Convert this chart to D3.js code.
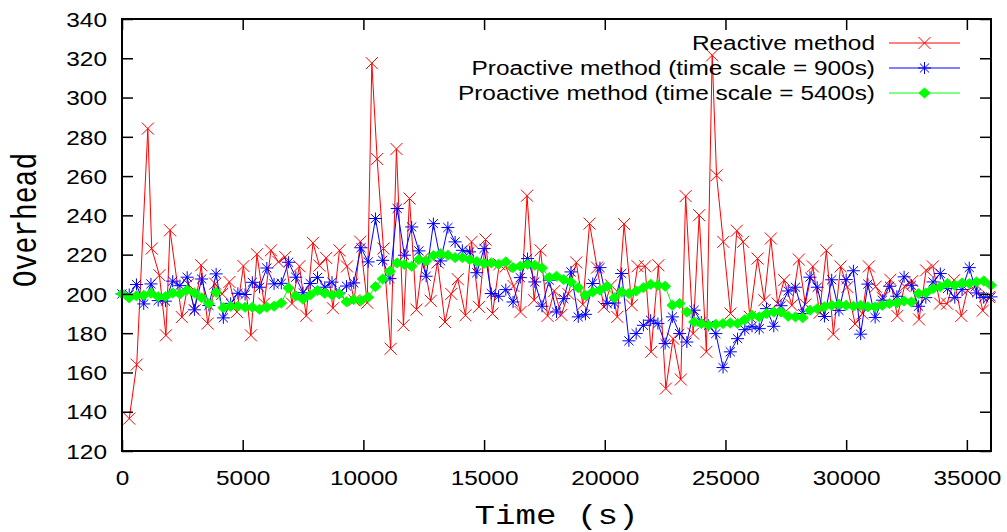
<html>
<script src='https://d3js.org/d3.v7.min.js'></script>
<style>
body {margin: 0; background: #fff;}
text {font-family: "Liberation Sans", Arial, sans-serif;}
.title {font-family: "Liberation Mono", "Courier New", monospace;}
</style>
<body onload='init()'>
<svg width=1007 height=532></svg>
<script>
// proactive series are sampled every 300 s
var gridTime = [
  0,300,600,900,1200,1500,1800,2100,2400,2700,
  3000,3300,3600,3900,4200,4500,4800,5100,5400,5700,
  6000,6300,6600,6900,7200,7500,7800,8100,8400,8700,
  9000,9300,9600,9900,10200,10500,10800,11100,11400,11700,
  12000,12300,12600,12900,13200,13500,13800,14100,14400,14700,
  15000,15300,15600,15900,16200,16500,16800,17100,17400,17700,
  18000,18300,18600,18900,19200,19500,19800,20100,20400,20700,
  21000,21300,21600,21900,22200,22500,22800,23100,23400,23700,
  24000,24300,24600,24900,25200,25500,25800,26100,26400,26700,
  27000,27300,27600,27900,28200,28500,28800,29100,29400,29700,
  30000,30300,30600,30900,31200,31500,31800,32100,32400,32700,
  33000,33300,33600,33900,34200,34500,34800,35100,35400,35700,
  36000];

var proactive900 = [
  200,199.7,204.8,194.9,205.1,196.6,196.3,206.5,204.2,208.5,
  191.9,207.6,194.1,210.2,187.8,195.2,200.3,199.7,205.9,203.4,
  213.2,205.1,205.4,216.1,208.5,200.6,205.3,208.4,203.4,206,
  200.5,204,205.6,223.5,216.3,238.4,217.1,207.8,243.5,219.7,
  234.1,221.9,209,235.8,216.8,233.8,226.5,222.2,221.4,210.8,
  223.1,200.2,198.8,202.2,195.9,208.3,218,206.1,193.7,207,
  190.8,197.6,211.2,188.3,189.6,205.3,213.4,195.1,195.4,210.4,
  176.1,179.8,184,186.6,184.9,174.7,188.3,179.8,175.5,191.7,
  185.7,184,179.8,162.5,170.5,177.2,181.8,183.5,182.3,192.5,
  183.5,194,201.5,203.4,190,208.5,203.4,188.5,207.2,191.6,
  207.3,211.8,179.5,205,188,196.8,203.9,198.8,208.7,204.4,
  193.7,198.1,206.1,210.4,202.7,198.1,202.2,213.4,200.5,198.1,
  198.5];

var proactive5400 = [
  200,198,199,199.3,200.3,198.6,198.6,200.5,200,202,
  200.5,198,195,200.8,193,193.7,193.7,193.2,193.2,192.2,
  193.2,193.7,195.4,203,199,197.3,199.5,201.7,200.3,199.5,
  200,196,197.1,196.6,198.3,203.7,207.6,211.5,215.8,215,
  214.1,217.5,216.8,219.5,220.5,219.7,218.5,218.5,217.5,216.5,
  215.5,215.8,215.1,216.3,213.4,214.1,215.1,214.6,213.2,208.3,
  209,207.3,206.1,203.2,199.3,201,201.9,203.9,198.1,201,
  200.2,201.5,203.2,204.9,204.4,203.9,194.2,195.1,190.8,185.7,
  184.9,184,184.5,184.9,185.2,184.9,186.9,189.1,188.3,190,
  190.8,190.8,188.6,188.3,187.9,191.7,192.5,193.4,194.2,194.7,
  194.2,193.7,194.2,193.4,193.4,194.2,195.1,195.4,196.4,195.9,
  200.2,200.5,202.7,203.6,205.3,204.4,205.6,205.3,206.1,206.6,
  204.4];

// reactive samples come at their own (uneven) times
var reactiveTime = [
  300,610,1070,1230,1550,1820,1990,2480,2740,3010,
  3280,3550,3860,4150,4450,4760,5030,5340,5590,5890,
  6170,6480,6760,7040,7350,7630,7910,8180,8460,8740,
  9010,9320,9620,9870,10160,10350,10570,10830,11130,11370,
  11660,11910,12200,12470,12790,13070,13380,13640,13910,14230,
  14480,14790,15060,15350,15630,15900,16220,16510,16780,17070,
  17340,17630,17910,18200,18490,18820,19090,19370,19680,19960,
  20260,20520,20800,21120,21360,21670,21920,22220,22530,22830,
  23150,23350,23660,23910,24210,24450,24630,24910,25210,25470,
  25730,26010,26330,26610,26880,27160,27430,27750,28040,28310,
  28620,28900,29180,29470,29770,30050,30370,30670,30940,31220,
  31510,31830,32120,32420,32740,33020,33310,33590,33890,34180,
  34470,34770,35020,35410,35660,35920];

var reactiveValue = [
  136.5,164,284.2,223.1,209.5,178.9,232.4,188.2,205,191.7,
  214.6,184.9,205.2,200,206.1,190.8,214.2,178.9,220.2,195.1,
  222.2,216.3,218.8,195.1,214.1,188.9,226,214.4,218.3,192.7,
  222.2,214,196.7,226.6,195.5,317.5,268.7,223.1,172.1,273.8,
  184,248.6,192,218,196.5,216,185.7,200,207.5,189.1,
  226.5,193.4,227.7,190,215.1,214,204,190.8,250,196.8,
  222.2,188.8,201.5,189.3,200,216,194.6,235.8,213.4,193.4,
  204.4,188.3,235.6,194.2,214.1,214.1,170.5,214.6,151.8,177.2,
  156.4,249.8,179.8,240.1,170.5,321.5,260.4,226.5,190,232.2,
  226.5,188.3,218,196.8,228.2,195.1,207,194.2,217.5,194.6,
  214,190.4,222.2,179.5,214,203.5,184.7,190,214,203.7,
  198,207.2,188.8,203.9,206.6,187,212,214,195.1,195,
  207,188.8,201.8,204.4,191.5,198.4];

var xTicks = [0,5000,10000,15000,20000,25000,30000,35000];
var yTicks = [120,140,160,180,200,220,240,260,280,300,320,340];

var seriesNames = ["Reactive method",
                   "Proactive method (time scale = 900s)",
                   "Proactive method (time scale = 5400s)"];
var seriesColors = ["#ff0000", "#0000ff", "#00ff00"];

function init() {

var left = 122, right = 991, top = 19, bottom = 451;
var widen = 1.22;   // the picture is wider than tall, text comes out stretched

var svg = d3.select("svg");

var x = d3.scaleLinear().domain([0, 36000]).range([left, right]);
var y = d3.scaleLinear().domain([120, 340]).range([bottom, top]);

function stretch(sel, k) {
  sel.each(function() {
    var w = this.getComputedTextLength();
    d3.select(this).attr("textLength", w * k).attr("lengthAdjust", "spacingAndGlyphs");
  });
}

var marks = [
  "M-6,-6L6,6M-6,6L6,-6",
  "M-6.5,0H6.5M0,-6V6M-4.6,-4.5L4.6,4.5M-4.6,4.5L4.6,-4.5",
  "M0,-5L5.5,0L0,5L-5.5,0Z"
];

var series = [
  reactiveTime.map(function(t, i) { return [t, reactiveValue[i]]; }),
  gridTime.map(function(t, i) { return [t, proactive900[i]]; }),
  gridTime.map(function(t, i) { return [t, proactive5400[i]]; })
];

var line = d3.line().x(function(d) { return x(d[0]); }).y(function(d) { return y(d[1]); });

series.forEach(function(s, k) {
  var g = svg.append("g");
  g.append("path").datum(s).attr("d", line)
    .attr("fill", "none").attr("stroke", seriesColors[k]).attr("stroke-width", 1);
  g.selectAll(".m").data(s).enter().append("path")
    .attr("transform", function(d) { return "translate(" + x(d[0]) + "," + y(d[1]) + ")"; })
    .attr("d", marks[k])
    .attr("fill", k == 2 ? seriesColors[k] : "none")
    .attr("stroke", seriesColors[k]).attr("stroke-width", 1);
});

// axes: inward ticks on all four sides, like gnuplot
var ax = svg.append("g").attr("transform", "translate(0," + bottom + ")")
  .call(d3.axisBottom(x).tickValues(xTicks).tickSizeInner(-11).tickSizeOuter(0).tickFormat(d3.format("d")));
var at = svg.append("g").attr("transform", "translate(0," + top + ")")
  .call(d3.axisTop(x).tickValues(xTicks).tickSizeInner(-11).tickSizeOuter(0).tickFormat(""));
var ay = svg.append("g").attr("transform", "translate(" + left + ",0)")
  .call(d3.axisLeft(y).tickValues(yTicks).tickSizeInner(-11).tickSizeOuter(0));
var ar = svg.append("g").attr("transform", "translate(" + right + ",0)")
  .call(d3.axisRight(y).tickValues(yTicks).tickSizeInner(-11).tickSizeOuter(0).tickFormat(""));

[ax, at, ay, ar].forEach(function(a) {
  a.select(".domain").remove();
  a.selectAll("line").attr("stroke", "#000").attr("stroke-width", 1.5);
});

ax.selectAll("text").attr("y", 34).attr("dy", 0)
  .attr("font-size", 20).attr("font-family", "Liberation Sans, Arial, sans-serif").attr("fill", "#000");
ay.selectAll("text").attr("x", -15).attr("dy", "0.36em")
  .attr("font-size", 20).attr("font-family", "Liberation Sans, Arial, sans-serif").attr("fill", "#000");
stretch(ax.selectAll("text"), widen);
stretch(ay.selectAll("text"), widen);

svg.append("rect").attr("x", left).attr("y", top)
  .attr("width", right - left).attr("height", bottom - top)
  .attr("fill", "none").attr("stroke", "#000").attr("stroke-width", 2);

// axis titles
var xt = svg.append("text").attr("class", "title")
  .attr("x", (left + right) / 2).attr("y", 524)
  .attr("text-anchor", "middle").attr("font-size", 28).text("Time (s)");
stretch(xt, widen);

svg.append("text").attr("class", "title")
  .attr("transform", "translate(36,220) scale(" + widen + ",1) rotate(-90)")
  .attr("text-anchor", "middle").attr("font-size", 28).text("Overhead");

// legend
var legendY = [43, 68, 93];
seriesNames.forEach(function(name, k) {
  var ly = legendY[k];
  var t = svg.append("text").attr("x", 875).attr("y", ly + 7)
    .attr("text-anchor", "end").attr("font-size", 20).text(name);
  stretch(t, widen);
  svg.append("line").attr("x1", 889).attr("x2", 960).attr("y1", ly).attr("y2", ly)
    .attr("stroke", seriesColors[k]).attr("stroke-width", 1);
  svg.append("path").attr("transform", "translate(924.5," + ly + ")")
    .attr("d", marks[k])
    .attr("fill", k == 2 ? seriesColors[k] : "none")
    .attr("stroke", seriesColors[k]);
});

}
</script>
</body>
</html>
